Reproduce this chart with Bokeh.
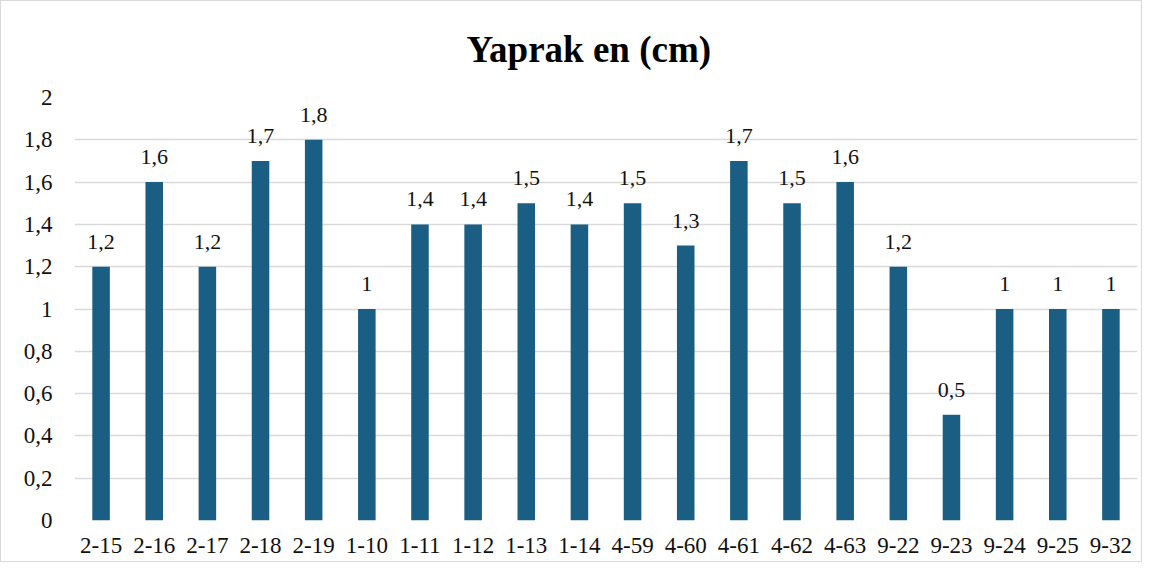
from bokeh.plotting import figure
from bokeh.models import ColumnDataSource, LabelSet, FixedTicker, CustomJSTickFormatter, FactorRange
from bokeh.embed import file_html
from bokeh.resources import INLINE

categories = ["2-15", "2-16", "2-17", "2-18", "2-19", "1-10", "1-11", "1-12", "1-13", "1-14",
              "4-59", "4-60", "4-61", "4-62", "4-63", "9-22", "9-23", "9-24", "9-25", "9-32"]
values = [1.2, 1.6, 1.2, 1.7, 1.8, 1.0, 1.4, 1.4, 1.5, 1.4,
          1.5, 1.3, 1.7, 1.5, 1.6, 1.2, 0.5, 1.0, 1.0, 1.0]
y_ticks = [0, 0.2, 0.4, 0.6, 0.8, 1.0, 1.2, 1.4, 1.6, 1.8, 2.0]
title_text = "Yaprak en (cm)"


def fmt(v):
    s = ("%.1f" % v)
    if s.endswith(".0"):
        s = s[:-2]
    return s.replace(".", ",")


labels = [fmt(v) for v in values]
source = ColumnDataSource(dict(cat=categories, val=values, lab=labels))

FONT = "Liberation Serif"
BAR = "#1A5F83"
GRID = "#d9d9d9"

p = figure(width=1142, height=562, x_range=FactorRange(*categories), y_range=(0, 2),
           output_backend="svg", toolbar_location=None,
           min_border_left=73, min_border_right=6, min_border_top=96, min_border_bottom=43)

p.title.text = title_text
p.title.text_font = FONT
p.title.text_font_size = "37px"
p.title.text_font_style = "bold"
p.title.text_color = "#000000"
p.title.align = "left"
p.title.offset = 392
p.title.vertical_align = "top"
p.title.standoff = 52

p.vbar(x="cat", top="val", width=0.33, source=source, color=BAR, line_color=None)

p.add_layout(LabelSet(x="cat", y="val", text="lab", source=source, y_offset=18,
                      text_align="center", text_baseline="alphabetic",
                      text_font=FONT, text_font_size="22px", text_color="#111111"))

p.yaxis.ticker = FixedTicker(ticks=y_ticks)
p.yaxis.formatter = CustomJSTickFormatter(code="""
    const s = (Math.round(tick*10)/10).toString();
    return s.replace('.', ',');
""")
for ax in (p.xaxis, p.yaxis):
    ax.axis_line_color = None
    ax.major_tick_line_color = None
    ax.minor_tick_line_color = None
    ax.major_tick_out = 0
    ax.major_tick_in = 0
    ax.major_label_text_font = FONT
    ax.major_label_text_font_size = "23px"
    ax.major_label_text_color = "#111111"
p.yaxis.major_label_standoff = 22
p.xaxis.major_label_standoff = 17

p.xgrid.grid_line_color = None
p.ygrid.grid_line_color = GRID
p.ygrid.grid_line_width = 1.5
p.outline_line_color = None
p.background_fill_color = "white"
p.border_fill_color = "white"
p.styles = {"border": "1.5px solid #d9d9d9", "box-sizing": "border-box"}

open("out.html", "w").write(file_html(p, INLINE))
